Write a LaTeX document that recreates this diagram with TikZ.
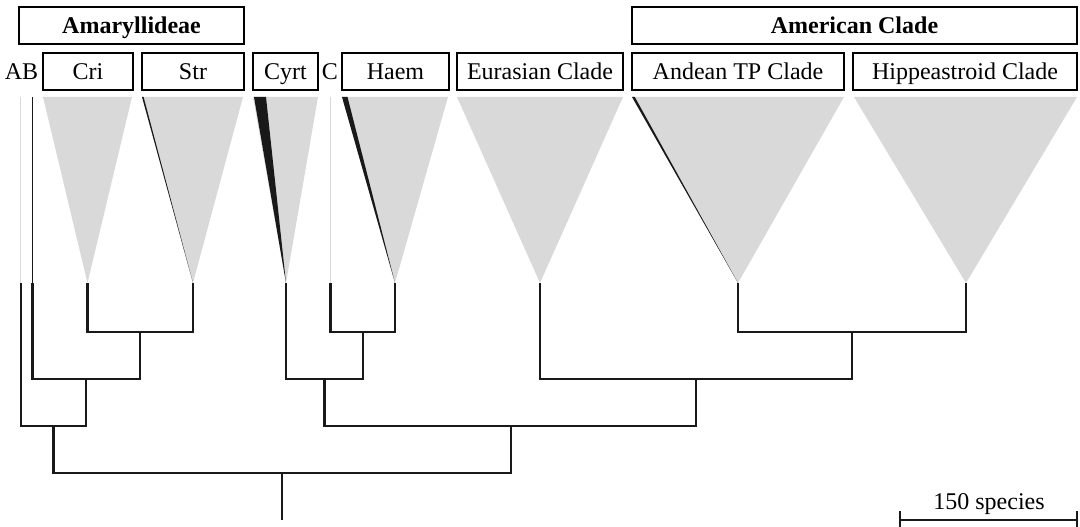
\documentclass[tikz,border=0pt]{standalone}
\usepackage{fontspec}
\setmainfont{Liberation Serif}
\begin{document}
\begin{tikzpicture}[x=1pt,y=-1pt,
  lbl/.style={inner sep=0pt, font=\fontsize{24}{28}\selectfont},
  clbox/.style={lbl, draw, line width=1.4pt, rectangle, minimum height=37pt,
    text height=17pt, text depth=0pt},
  wedge/.style={fill=black!15, draw=none},
  share/.style={fill=black!90, draw=none},
  branch/.style={draw=black!90, line width=2.2pt, line join=miter},
  scalebar/.style={draw=black!90, line width=1.1pt}]
\useasboundingbox (0,0) rectangle (1080,527);

% group headers
\node[clbox, minimum width=225pt] (amar) at (131.5,25.5) {\bfseries Amaryllideae};
\node[clbox, minimum width=445pt] (amer) at (854.5,25.5) {\bfseries American Clade};

% clade labels
\node[clbox, minimum width=90pt]  (lcri) at (88,71.5)    {Cri};
\node[clbox, minimum width=102pt] (lstr) at (193,71.5)   {Str};
\node[clbox, minimum width=65pt]  (lcyr) at (285.5,71.5) {Cyrt};
\node[clbox, minimum width=107pt] (lhae) at (395.5,71.5) {Haem};
\node[clbox, minimum width=166pt] (leur) at (540,71.5)   {Eurasian Clade};
\node[clbox, minimum width=212pt] (land) at (738,71.5)   {Andean TP Clade};
\node[clbox, minimum width=224pt] (lhip) at (965,71.5)   {Hippeastroid Clade};
\node[lbl, anchor=base] (lab) at (21.5,80) {AB};
\node[lbl, anchor=base] (lc)  at (330,80)  {C};

% tips of the tree
\coordinate (tA)   at (20.7,283);
\coordinate (tB)   at (32.4,283);
\coordinate (tCri) at (87.5,283);
\coordinate (tStr) at (193,283);
\coordinate (tCyr) at (286,283);
\coordinate (tC)   at (330.5,283);
\coordinate (tHae) at (395,283);
\coordinate (tEur) at (540,283);
\coordinate (tAnd) at (738,283);
\coordinate (tHip) at (966,283);

% species wedges
\path[wedge] (43,97) -- (132,97) -- (tCri) -- cycle;
\path[wedge] (142,97) -- (243,97) -- (tStr) -- cycle;
\path[share] (142,97) -- (143.6,97) -- (tStr) -- cycle;
\path[wedge] (253,97) -- (318,97) -- (tCyr) -- cycle;
\path[share] (254,97) -- (266,97) -- (tCyr) -- cycle;
\path[wedge] (342,97) -- (448,97) -- (tHae) -- cycle;
\path[share] (342,97) -- (347.5,97) -- (tHae) -- cycle;
\path[wedge] (457,97) -- (623,97) -- (tEur) -- cycle;
\path[wedge] (632,97) -- (844,97) -- (tAnd) -- cycle;
\path[share] (632,97) -- (634.8,97) -- (tAnd) -- cycle;
\path[wedge] (854,97) -- (1077,97) -- (tHip) -- cycle;
\coordinate (topA) at (20.7,97);
\coordinate (topB) at (32.4,97);
\coordinate (topC) at (330.5,97);
\draw[black!15, line width=1.3pt] (topA) -- (tA);
\draw[black!90, line width=1.1pt] (topB) -- (tB);
\draw[black!15, line width=1.3pt] (topC) -- (tC);

% internal nodes
\coordinate (nCS)  at (140.2,332);
\coordinate (nBCS) at (86,379);
\coordinate (nAB)  at (53.4,426);
\coordinate (nCH)  at (363,332);
\coordinate (nCy)  at (324.4,379);
\coordinate (nAm)  at (852,332);
\coordinate (nEA)  at (696.3,379);
\coordinate (nR)   at (510.7,426);
\coordinate (root) at (282,473);
\coordinate (base) at (282,520);

% branches
\draw[branch] (tCri) |- (nCS) -| (tStr);
\draw[branch] (tB) |- (nBCS) -| (nCS);
\draw[branch] (tA) |- (nAB) -| (nBCS);
\draw[branch] (tC) |- (nCH) -| (tHae);
\draw[branch] (tCyr) |- (nCy) -| (nCH);
\draw[branch] (tAnd) |- (nAm) -| (tHip);
\draw[branch] (tEur) |- (nEA) -| (nAm);
\draw[branch] (nCy) |- (nR) -| (nEA);
\draw[branch] (nAB) |- (root) -| (nR);
\draw[branch] (root) -- (base);

% scale bar
\coordinate (sbL)  at (900,520);
\coordinate (sbR)  at (1077,520);
\coordinate (sbLt) at (900,511);
\coordinate (sbLb) at (900,527);
\coordinate (sbRt) at (1077,511);
\coordinate (sbRb) at (1077,527);
\draw[scalebar] (sbL) -- (sbR);
\draw[scalebar] (sbLt) -- (sbLb);
\draw[scalebar] (sbRt) -- (sbRb);
\node[lbl, anchor=base] (sblabel) at (989,509) {150 species};
\end{tikzpicture}
\end{document}
